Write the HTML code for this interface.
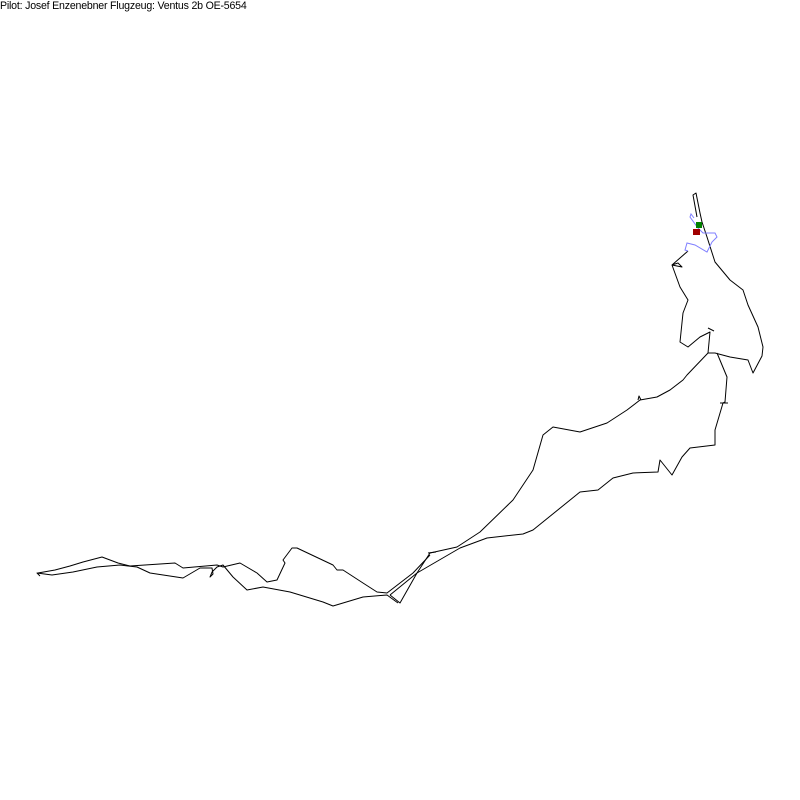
<!DOCTYPE html>
<html><head><meta charset="utf-8"><style>
html,body{margin:0;padding:0;background:#fff;}
body{width:800px;height:800px;position:relative;overflow:hidden;}
.t{position:absolute;left:0;top:0;font-family:"Liberation Sans",sans-serif;font-size:10.6px;color:#000;line-height:12px;letter-spacing:-0.2px;}
svg{position:absolute;left:0;top:0;}
</style></head><body>
<div class="t">Pilot: Josef Enzenebner Flugzeug: Ventus 2b OE-5654</div>
<svg width="800" height="800" viewBox="0 0 800 800" fill="none" stroke="#000" stroke-width="1" stroke-linejoin="round">
<polyline points="697,217 693,195 696,193 700,213 702,222 707,237 715,262 730,280 743,290 748,305 758,327 763,347 762,356 753,373 748,360 730,357 715,353 708,353"/>
<polyline points="708,353 687,375 683,380 670,390 657,397 640,400 627,410 607,423 580,432 553,427 543,435 533,470 513,500 480,532 457,547 430,553 417,573 390,595"/>
<polyline points="638,400 639,396 641,400"/>
<polyline points="717,353 727,377 725,402 723,403 715,430 715,445 690,448 682,457 672,475 660,460 658,472 633,473 613,478 598,490 580,492 533,530 523,534 487,538 460,548 417,573 400,603 390,595"/>
<polyline points="720,403 728,403"/>
<polyline points="708,353 710,332 700,337 688,347 680,342 683,313 688,300 680,287 672,265 682,267 678,263 672,265 688,251"/>
<polyline points="708,328 714,331"/>
<polyline points="430,555 413,573 387,593 377,592 363,583 343,570 337,570 333,565 297,548 292,548 283,560 285,563 277,580 267,582 257,573 240,563 223,567 217,565 183,568 175,563 130,566 118,563 102,557 83,562 70,566 55,570 38,573"/>
<polyline points="398,603 387,595 363,597 333,606 323,602 290,592 263,587 247,590 233,577 223,565 217,567 212,572 210,577 213,574 212,568 200,568 183,578 150,573 137,567 120,565 97,567 73,572 52,575 37,573 40,576"/>
<polyline points="428,553 436,552" />
</svg>
<svg width="800" height="800" viewBox="0 0 800 800" fill="none" stroke="#7f7fff" stroke-width="1">
<polyline points="688,251 685,250 687,243 695,245 707,252 712,242 717,237 715,233 703,233 698,228 690,217 691,214 694,218"/>
</svg>
<svg width="800" height="800" viewBox="0 0 800 800">
<rect x="693" y="229" width="7" height="6" fill="#a00000"/>
<rect x="696" y="222" width="6" height="6" fill="#008000"/>
</svg>
</body></html>
